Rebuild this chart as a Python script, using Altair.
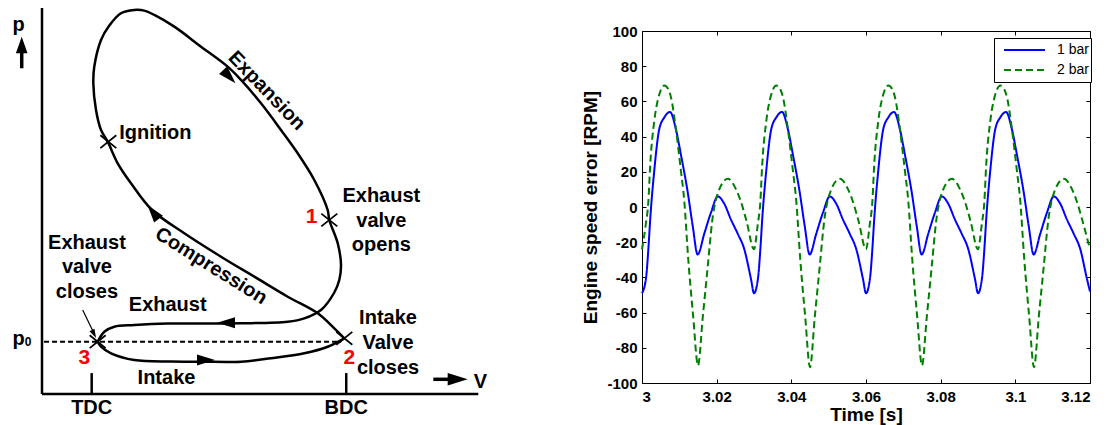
import altair as alt
import pandas as pd

FONT = "Liberation Sans"

# ---------------- engine speed error traces (right panel) ----------------
t_1bar = [
    3.0000, 3.0011, 3.0017, 3.0022, 3.0033, 3.0046, 3.0060, 3.0075, 3.0091, 3.0104, 3.0122,
    3.0136, 3.0149, 3.0167, 3.0185, 3.0203, 3.0220, 3.0238, 3.0256, 3.0274, 3.0292,
    3.0300, 3.0311, 3.0317, 3.0322, 3.0333, 3.0346, 3.0360, 3.0375, 3.0391, 3.0404, 3.0422,
    3.0436, 3.0449, 3.0467, 3.0485, 3.0503, 3.0520, 3.0538, 3.0556, 3.0574, 3.0592,
    3.0600, 3.0611, 3.0617, 3.0622, 3.0633, 3.0646, 3.0660, 3.0675, 3.0691, 3.0704, 3.0722,
    3.0736, 3.0749, 3.0767, 3.0785, 3.0803, 3.0820, 3.0838, 3.0856, 3.0874, 3.0892,
    3.0900, 3.0911, 3.0917, 3.0922, 3.0933, 3.0946, 3.0960, 3.0975, 3.0991, 3.1004, 3.1022,
    3.1036, 3.1049, 3.1067, 3.1085, 3.1103, 3.1120, 3.1138, 3.1156, 3.1174, 3.1192,
    3.1200,
]
rpm_1bar = [
    -49, -40, -24, -7, 21, 44, 51, 54, 44, 30, 9, -11, -27, -15, -3, 6, 2, -7, -15, -24, -41,
    -49, -40, -24, -7, 21, 44, 51, 54, 44, 30, 9, -11, -27, -15, -3, 6, 2, -7, -15, -24, -41,
    -49, -40, -24, -7, 21, 44, 51, 54, 44, 30, 9, -11, -27, -15, -3, 6, 2, -7, -15, -24, -41,
    -49, -40, -24, -7, 21, 44, 51, 54, 44, 30, 9, -11, -27, -15, -3, 6, 2, -7, -15, -24, -41,
    -48,
]
t_2bar = [
    3.0000, 3.0010, 3.0017, 3.0022, 3.0033, 3.0045, 3.0060, 3.0070, 3.0078, 3.0091, 3.0104, 3.0113,
    3.0124, 3.0137, 3.0150, 3.0163, 3.0176, 3.0188, 3.0207, 3.0230, 3.0252, 3.0265, 3.0280,
    3.0300, 3.0310, 3.0317, 3.0322, 3.0333, 3.0345, 3.0360, 3.0370, 3.0378, 3.0391, 3.0404, 3.0413,
    3.0424, 3.0437, 3.0450, 3.0463, 3.0476, 3.0488, 3.0507, 3.0530, 3.0552, 3.0565, 3.0580,
    3.0600, 3.0610, 3.0617, 3.0622, 3.0633, 3.0645, 3.0660, 3.0670, 3.0678, 3.0691, 3.0704, 3.0713,
    3.0724, 3.0737, 3.0750, 3.0763, 3.0776, 3.0788, 3.0807, 3.0830, 3.0852, 3.0865, 3.0880,
    3.0900, 3.0910, 3.0917, 3.0922, 3.0933, 3.0945, 3.0960, 3.0970, 3.0978, 3.0991, 3.1004, 3.1013,
    3.1024, 3.1037, 3.1050, 3.1063, 3.1076, 3.1088, 3.1107, 3.1130, 3.1152, 3.1165, 3.1180,
    3.1200,
]
rpm_2bar = [
    -24, -10, 3, 24, 49, 63, 69, 67, 62, 44, 21, 4, -30, -62, -90, -62, -34, -8, 10, 16, 10, 3, -8,
    -24, -10, 3, 24, 49, 63, 69, 67, 62, 44, 21, 4, -30, -62, -91, -62, -34, -8, 10, 16, 10, 3, -8,
    -24, -10, 3, 24, 49, 63, 69, 67, 62, 44, 21, 4, -30, -62, -90, -62, -34, -8, 10, 16, 10, 3, -8,
    -24, -10, 3, 24, 49, 63, 69, 67, 62, 44, 21, 4, -30, -62, -91, -62, -34, -8, 10, 16, 10, 3, -8,
    -24,
]
series_names = ["1 bar", "2 bar"]
series_colors = ["#0000FF", "#008000"]
series_dashes = [[1, 0], [7, 4]]
time_ticks = [3.0, 3.02, 3.04, 3.06, 3.08, 3.1, 3.12]
rpm_ticks = [-100, -80, -60, -40, -20, 0, 20, 40, 60, 80, 100]

# ---------------- p-V diagram (left panel) ----------------
# V in clearance-volume units (TDC ~ 1, BDC ~ 6), p in units of ambient pressure p0
intake_V = [1.098, 1.164, 1.361, 1.820, 2.544, 3.136, 3.925, 4.516, 5.173, 5.634, 5.962]
intake_p = [1.000, 0.904, 0.778, 0.650, 0.621, 0.618, 0.618, 0.683, 0.778, 0.904, 1.065]

# compression -> combustion -> expansion -> exhaust, from point 2 back to point 3
loop_V = [5.962, 5.765, 5.437, 4.846, 4.187, 3.530, 2.806, 2.169, 1.755, 1.493, 1.296, 1.164,
          1.065, 1.012, 1.031, 1.164, 1.321, 1.558, 1.820, 2.018, 2.215, 2.609, 3.136, 3.662,
          3.925, 4.319, 4.713, 5.043, 5.370, 5.634, 5.666, 5.832, 5.897, 5.863, 5.759, 5.502,
          5.173, 4.846, 3.925, 3.136, 2.479, 1.820, 1.426, 1.229, 1.098]
loop_p = [1.065, 1.256, 1.543, 1.860, 2.243, 2.625, 3.073, 3.518, 4.029, 4.411, 4.824, 5.048,
          5.430, 5.941, 6.258, 6.769, 7.036, 7.279, 7.342, 7.329, 7.247, 7.023, 6.641, 6.258,
          6.004, 5.558, 5.048, 4.602, 4.092, 3.518, 3.327, 2.881, 2.467, 2.180, 1.931, 1.606,
          1.447, 1.382, 1.352, 1.348, 1.348, 1.319, 1.287, 1.191, 1.000]

V_TDC, V_BDC, P0 = 0.98, 6.0, 1.0

# straight strokes: axes, TDC/BDC ticks, arrow shafts, pointer line
rule_V = [0.0, 0.0, V_TDC, V_BDC, -0.40, 7.717, 0.803]
rule_V2 = [0.0, 8.604, V_TDC, V_BDC, -0.40, 8.03, 1.01]
rule_p = [0.0, 0.0, 0.0, 0.0, 6.228, 0.281, 1.606]
rule_p2 = [7.38, 0.0, 0.40, 0.40, 6.577, 0.281, 1.19]
rule_w = [2.5, 2.5, 2.5, 2.5, 3.5, 3.5, 1.2]

# arrowheads on the cycle and the V arrow (slim), and on the p arrow (wide)
slim_V = [3.694, 2.189, 3.629, 3.234, 8.198, 1.026]
slim_p = [6.067, 3.480, 1.363, 0.650, 0.281, 1.147]
slim_angle = [137, 322, 270, 90, 90, 153]
slim_size = [324, 324, 324, 324, 400, 81]
wide_V = [-0.40]
wide_p = [6.673]
wide_angle = [0]
wide_size = [276]

# event markers: ignition, 1, 2, 3
mark_V = [1.308, 5.666, 5.962, 1.098]
mark_p = [4.824, 3.327, 1.065, 1.000]

label_text = ["Expansion", "Compression", "Ignition",
              "Exhaust", "valve", "opens",
              "Exhaust", "valve", "closes",
              "Exhaust", "Intake",
              "Intake", "Valve", "closes",
              "TDC", "BDC", "V", "p", "p"]
label_V = [4.431, 3.333, 2.234,
           6.692, 6.692, 6.692,
           0.887, 0.887, 0.887,
           2.479, 2.455,
           6.824, 6.824, 6.824,
           V_TDC, V_BDC, 8.644, -0.463, -0.463]
label_p = [5.799, 2.447, 4.985,
           3.786, 3.314, 2.849,
           2.893, 2.434, 1.956,
           1.702, 0.300,
           1.447, 0.969, 0.491,
           -0.273, -0.273, 0.229, 7.046, 1.052]
label_angle = [46, 32, 0,
               0, 0, 0,
               0, 0, 0,
               0, 0,
               0, 0, 0,
               0, 0, 0, 0, 0]

point_text = ["1", "2", "3"]
point_V = [5.319, 6.060, 0.834]
point_p = [3.390, 0.683, 0.683]

sub_text = ["0"]
sub_V = [-0.276]
sub_p = [0.994]

SLIM_HEAD = "M0,-1L0.62,1L-0.62,1Z"
WIDE_HEAD = "M0,-1L0.7,1L-0.7,1Z"
CROSS = "M-1,-0.8L1,0.8M-1,0.8L1,-0.8"

xs = alt.Scale(domain=[0, 8.5], nice=False, zero=False)
ys = alt.Scale(domain=[0, 6.94], nice=False, zero=False)


def X(field):
    return alt.X(field, type="quantitative", scale=xs, axis=None)


def Y(field):
    return alt.Y(field, type="quantitative", scale=ys, axis=None)


loop_df = pd.DataFrame({
    "V": intake_V + loop_V,
    "p": intake_p + loop_p,
    "seg": ["intake"] * len(intake_V) + ["cycle"] * len(loop_V),
    "i": list(range(len(intake_V))) + list(range(len(loop_V))),
})
rules_df = pd.DataFrame({"V": rule_V, "V2": rule_V2, "p": rule_p, "p2": rule_p2, "w": rule_w})
p0_df = pd.DataFrame({"V": [0.04], "V2": [5.9], "p": [P0]})
slim_df = pd.DataFrame({"V": slim_V, "p": slim_p, "a": slim_angle, "s": slim_size})
wide_df = pd.DataFrame({"V": wide_V, "p": wide_p, "a": wide_angle, "s": wide_size})
marks_df = pd.DataFrame({"V": mark_V, "p": mark_p})
labels_df = pd.DataFrame({"t": label_text, "V": label_V, "p": label_p, "a": label_angle})
points_df = pd.DataFrame({"t": point_text, "V": point_V, "p": point_p})
sub_df = pd.DataFrame({"t": sub_text, "V": sub_V, "p": sub_p})

rules = alt.Chart(rules_df).mark_rule(color="black").encode(
    x=X("V"), x2="V2", y=Y("p"), y2="p2", strokeWidth=alt.StrokeWidth("w:Q", scale=None)
)
p0_line = alt.Chart(p0_df).mark_rule(color="black", strokeWidth=2, strokeDash=[5, 3]).encode(
    x=X("V"), x2="V2", y=Y("p")
)
loop = alt.Chart(loop_df).mark_line(color="black", strokeWidth=2.5, interpolate="catmull-rom").encode(
    x=X("V"), y=Y("p"), detail="seg:N", order="i:Q"
)
slim_heads = alt.Chart(slim_df).mark_point(shape=SLIM_HEAD, filled=True, color="black", opacity=1).encode(
    x=X("V"), y=Y("p"), angle=alt.Angle("a:Q", scale=None), size=alt.Size("s:Q", scale=None)
)
wide_heads = alt.Chart(wide_df).mark_point(shape=WIDE_HEAD, filled=True, color="black", opacity=1).encode(
    x=X("V"), y=Y("p"), angle=alt.Angle("a:Q", scale=None), size=alt.Size("s:Q", scale=None)
)
crosses = alt.Chart(marks_df).mark_point(shape=CROSS, filled=False, color="black", opacity=1,
                                         strokeWidth=1.8, size=256).encode(x=X("V"), y=Y("p"))
labels = alt.Chart(labels_df).mark_text(font=FONT, fontWeight="bold", fontSize=20, color="black",
                                        baseline="middle").encode(
    x=X("V"), y=Y("p"), text="t:N", angle=alt.Angle("a:Q", scale=None)
)
point_labels = alt.Chart(points_df).mark_text(font=FONT, fontWeight="bold", fontSize=21, color="#FF0000",
                                              baseline="middle").encode(x=X("V"), y=Y("p"), text="t:N")
sub_label = alt.Chart(sub_df).mark_text(font=FONT, fontWeight="bold", fontSize=12, color="black",
                                        baseline="middle").encode(x=X("V"), y=Y("p"), text="t:N")

left = alt.layer(
    rules, p0_line, loop, slim_heads, wide_heads, crosses, labels, point_labels, sub_label
).properties(width=431, height=363, view=alt.ViewBackground(stroke="transparent"))

# ---------------- right panel ----------------
speed_df = pd.DataFrame({
    "t": t_1bar + t_2bar,
    "rpm": rpm_1bar + rpm_2bar,
    "series": ["1 bar"] * len(t_1bar) + ["2 bar"] * len(t_2bar),
})

tick_style = dict(offset=-4, tickSize=4, tickColor="black", tickWidth=1, domain=False, grid=False)
label_style = dict(labelFont=FONT, labelFontSize=15, labelFontWeight="bold", labelColor="black")
title_style = dict(titleFont=FONT, titleFontSize=19, titleFontWeight="bold", titleColor="black")

x_scale = alt.Scale(domain=[3.0, 3.12], nice=False, zero=False)
y_scale = alt.Scale(domain=[-100, 100], nice=False, zero=False)

legend = alt.Legend(
    orient="none", legendX=352, legendY=7, title=None,
    strokeColor="black", fillColor="white", padding=2, cornerRadius=0,
    symbolType="stroke", symbolSize=1681, symbolStrokeWidth=2,
    symbolOffset=7, labelOffset=11, clipHeight=20, rowPadding=0,
    labelFont=FONT, labelFontSize=14, labelColor="black",
)

lines = alt.Chart(speed_df).mark_line(strokeWidth=2, interpolate="monotone").encode(
    x=alt.X("t:Q", scale=x_scale, axis=alt.Axis(
        orient="bottom", values=time_ticks, format="~g", labelPadding=6,
        title="Time [s]", titlePadding=1, **tick_style, **label_style, **title_style)),
    y=alt.Y("rpm:Q", scale=y_scale, axis=alt.Axis(
        orient="left", values=rpm_ticks, labelExpr="'' + datum.value", labelPadding=5,
        title="Engine speed error [RPM]", titlePadding=6, **tick_style, **label_style, **title_style)),
    color=alt.Color("series:N", scale=alt.Scale(domain=series_names, range=series_colors), legend=legend),
    strokeDash=alt.StrokeDash("series:N", scale=alt.Scale(domain=series_names, range=series_dashes),
                              legend=legend),
)
mirror = alt.Chart(speed_df).mark_line(opacity=0).encode(
    x=alt.X("t:Q", axis=alt.Axis(orient="top", values=time_ticks, labels=False, title=None, **tick_style)),
    y=alt.Y("rpm:Q", axis=alt.Axis(orient="right", values=rpm_ticks, labels=False, title=None, **tick_style)),
    detail="series:N",
)
right = alt.layer(lines, mirror).resolve_axis(x="independent", y="independent").properties(
    width=448, height=352, view=alt.ViewBackground(stroke="black", strokeWidth=1)
)

chart = alt.hconcat(left, right, spacing=169, bounds="flush").resolve_legend(
    color="independent", strokeDash="independent"
).properties(
    padding={"left": 11, "top": 4, "right": 5, "bottom": 2}
).configure(font=FONT)

chart.save("out.html", embed_options={"renderer": "svg", "actions": False})
